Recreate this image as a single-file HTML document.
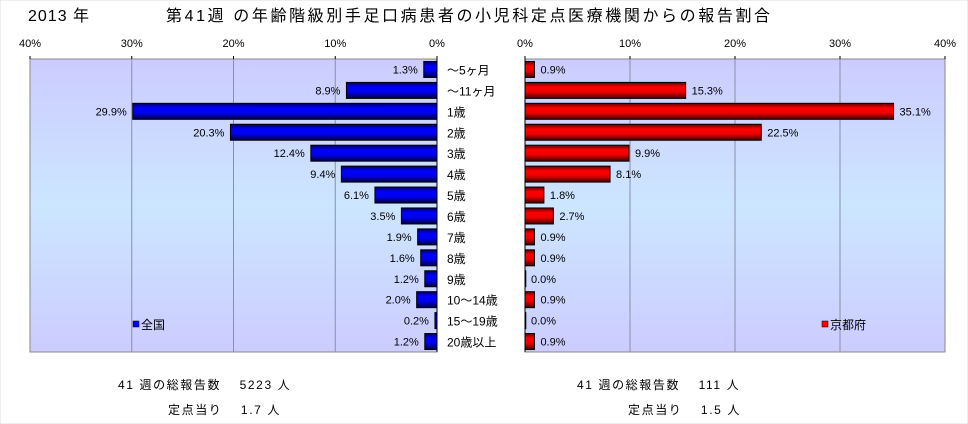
<!DOCTYPE html>
<html><head><meta charset="utf-8"><style>
body{margin:0;background:#fff;}
svg{display:block;font-family:"Liberation Sans","Noto Sans CJK JP",sans-serif;}
</style></head><body>
<svg width="968" height="424" viewBox="0 0 968 424">
<defs>
<linearGradient id="bg" x1="0" y1="0" x2="0" y2="1">
<stop offset="0" stop-color="#ccccff"/><stop offset="0.5" stop-color="#cce6ff"/><stop offset="1" stop-color="#ccccff"/>
</linearGradient>
<linearGradient id="gb" x1="0" y1="0" x2="0" y2="1">
<stop offset="0" stop-color="#000060"/><stop offset="0.3" stop-color="#0000ff"/><stop offset="0.6" stop-color="#0000ee"/><stop offset="1" stop-color="#000040"/>
</linearGradient>
<linearGradient id="gr" x1="0" y1="0" x2="0" y2="1">
<stop offset="0" stop-color="#600000"/><stop offset="0.3" stop-color="#ff0000"/><stop offset="0.6" stop-color="#ee0000"/><stop offset="1" stop-color="#400000"/>
</linearGradient>
</defs>
<rect x="0" y="0" width="968" height="424" fill="#fff" stroke="#ddd"/>
<text x="28" y="21" font-size="16" letter-spacing="1">2013 年</text>
<text x="166" y="21" font-size="16" letter-spacing="2.6">第41週 の年齢階級別手足口病患者の小児科定点医療機関からの報告割合</text>
<g id="left"></g>
<g id="right"></g>
<text x="118" y="389" font-size="12" letter-spacing="1.6">41 週の総報告数　 5223 人</text>
<text x="168" y="414" font-size="12" letter-spacing="1.6">定点当り　 1.7 人</text>
<text x="577" y="389" font-size="12" letter-spacing="1.6">41 週の総報告数　 111 人</text>
<text x="628" y="414" font-size="12" letter-spacing="1.6">定点当り　 1.5 人</text>
</svg>
<script>
const categories=["～5ヶ月","～11ヶ月","1歳","2歳","3歳","4歳","5歳","6歳","7歳","8歳","9歳","10～14歳","15～19歳","20歳以上"];
const nationalValues=[1.3,8.9,29.9,20.3,12.4,9.4,6.1,3.5,1.9,1.6,1.2,2.0,0.2,1.2];
const kyotoValues=[0.9,15.3,35.1,22.5,9.9,8.1,1.8,2.7,0.9,0.9,0.0,0.9,0.0,0.9];
const tickValues=[0,10,20,30,40];
const NS="http://www.w3.org/2000/svg";
const top0=59,bot0=352,rowH=(bot0-top0)/categories.length,barH=16;
function mk(tag,attrs,parent){const e=document.createElementNS(NS,tag);for(const k in attrs)e.setAttribute(k,attrs[k]);parent.appendChild(e);return e;}
function yRow(i){return top0+i*rowH+rowH/2;}
function panel(g,x0,x1,dir,vals,fill,legendX,legendText,legendColor){
  const zero=dir<0?x1:x0,w=x1-x0;
  const sx=v=>zero+dir*v/40*w;
  const bg=mk('rect',{x:x0,y:top0,width:w,height:bot0-top0,fill:'url(#bg)',stroke:'#888'},g);
  
  
  tickValues.forEach(t=>{
    const x=sx(t);
    if(t>0&&t<40){const l=mk('line',{x1:x,x2:x,y1:top0,y2:bot0,stroke:'#8890a8'},g);
      
      }
    const tk=mk('line',{x1:x,x2:x,y1:top0-3,y2:top0,stroke:'#000'},g);
    
    
    const tx=mk('text',{x:x,y:47,'font-size':11,'text-anchor':'middle'},g);tx.textContent=t+'%';
    
    
  });
  const ax=mk('line',{x1:zero,x2:zero,y1:top0,y2:bot0,stroke:'#000'},g);
  
  
  vals.forEach((v,i)=>{
    const y=yRow(i),xe=sx(v);
    const r=mk('rect',{x:Math.min(zero,xe),y:y-barH/2,width:Math.max(Math.abs(xe-zero),0.8),height:barH,fill:fill,stroke:'#000','stroke-width':1},g);
    
    
    const t=mk('text',{x:xe+dir*6,y:y+4,'font-size':11,'text-anchor':dir<0?'end':'start'},g);
    t.textContent=v.toFixed(1)+'%';
    
    
  });
  const lr=mk('rect',{x:legendX,y:321,width:6,height:6,fill:legendColor,stroke:'#000','stroke-width':0.5},g);
  
  
  const lt=mk('text',{x:legendX+8,y:329,'font-size':12},g);lt.textContent=legendText;
  
  
}
panel(document.getElementById('left'),30,437,-1,nationalValues,'url(#gb)',133,'全国','#0000ff');
panel(document.getElementById('right'),525,945,1,kyotoValues,'url(#gr)',822,'京都府','#ff0000');
const svg=document.querySelector('svg');
categories.forEach((c,i)=>{
  const t=mk('text',{x:447,y:yRow(i)+5,'font-size':12},svg);t.textContent=c;
  
  
});
</script>
</body></html>
